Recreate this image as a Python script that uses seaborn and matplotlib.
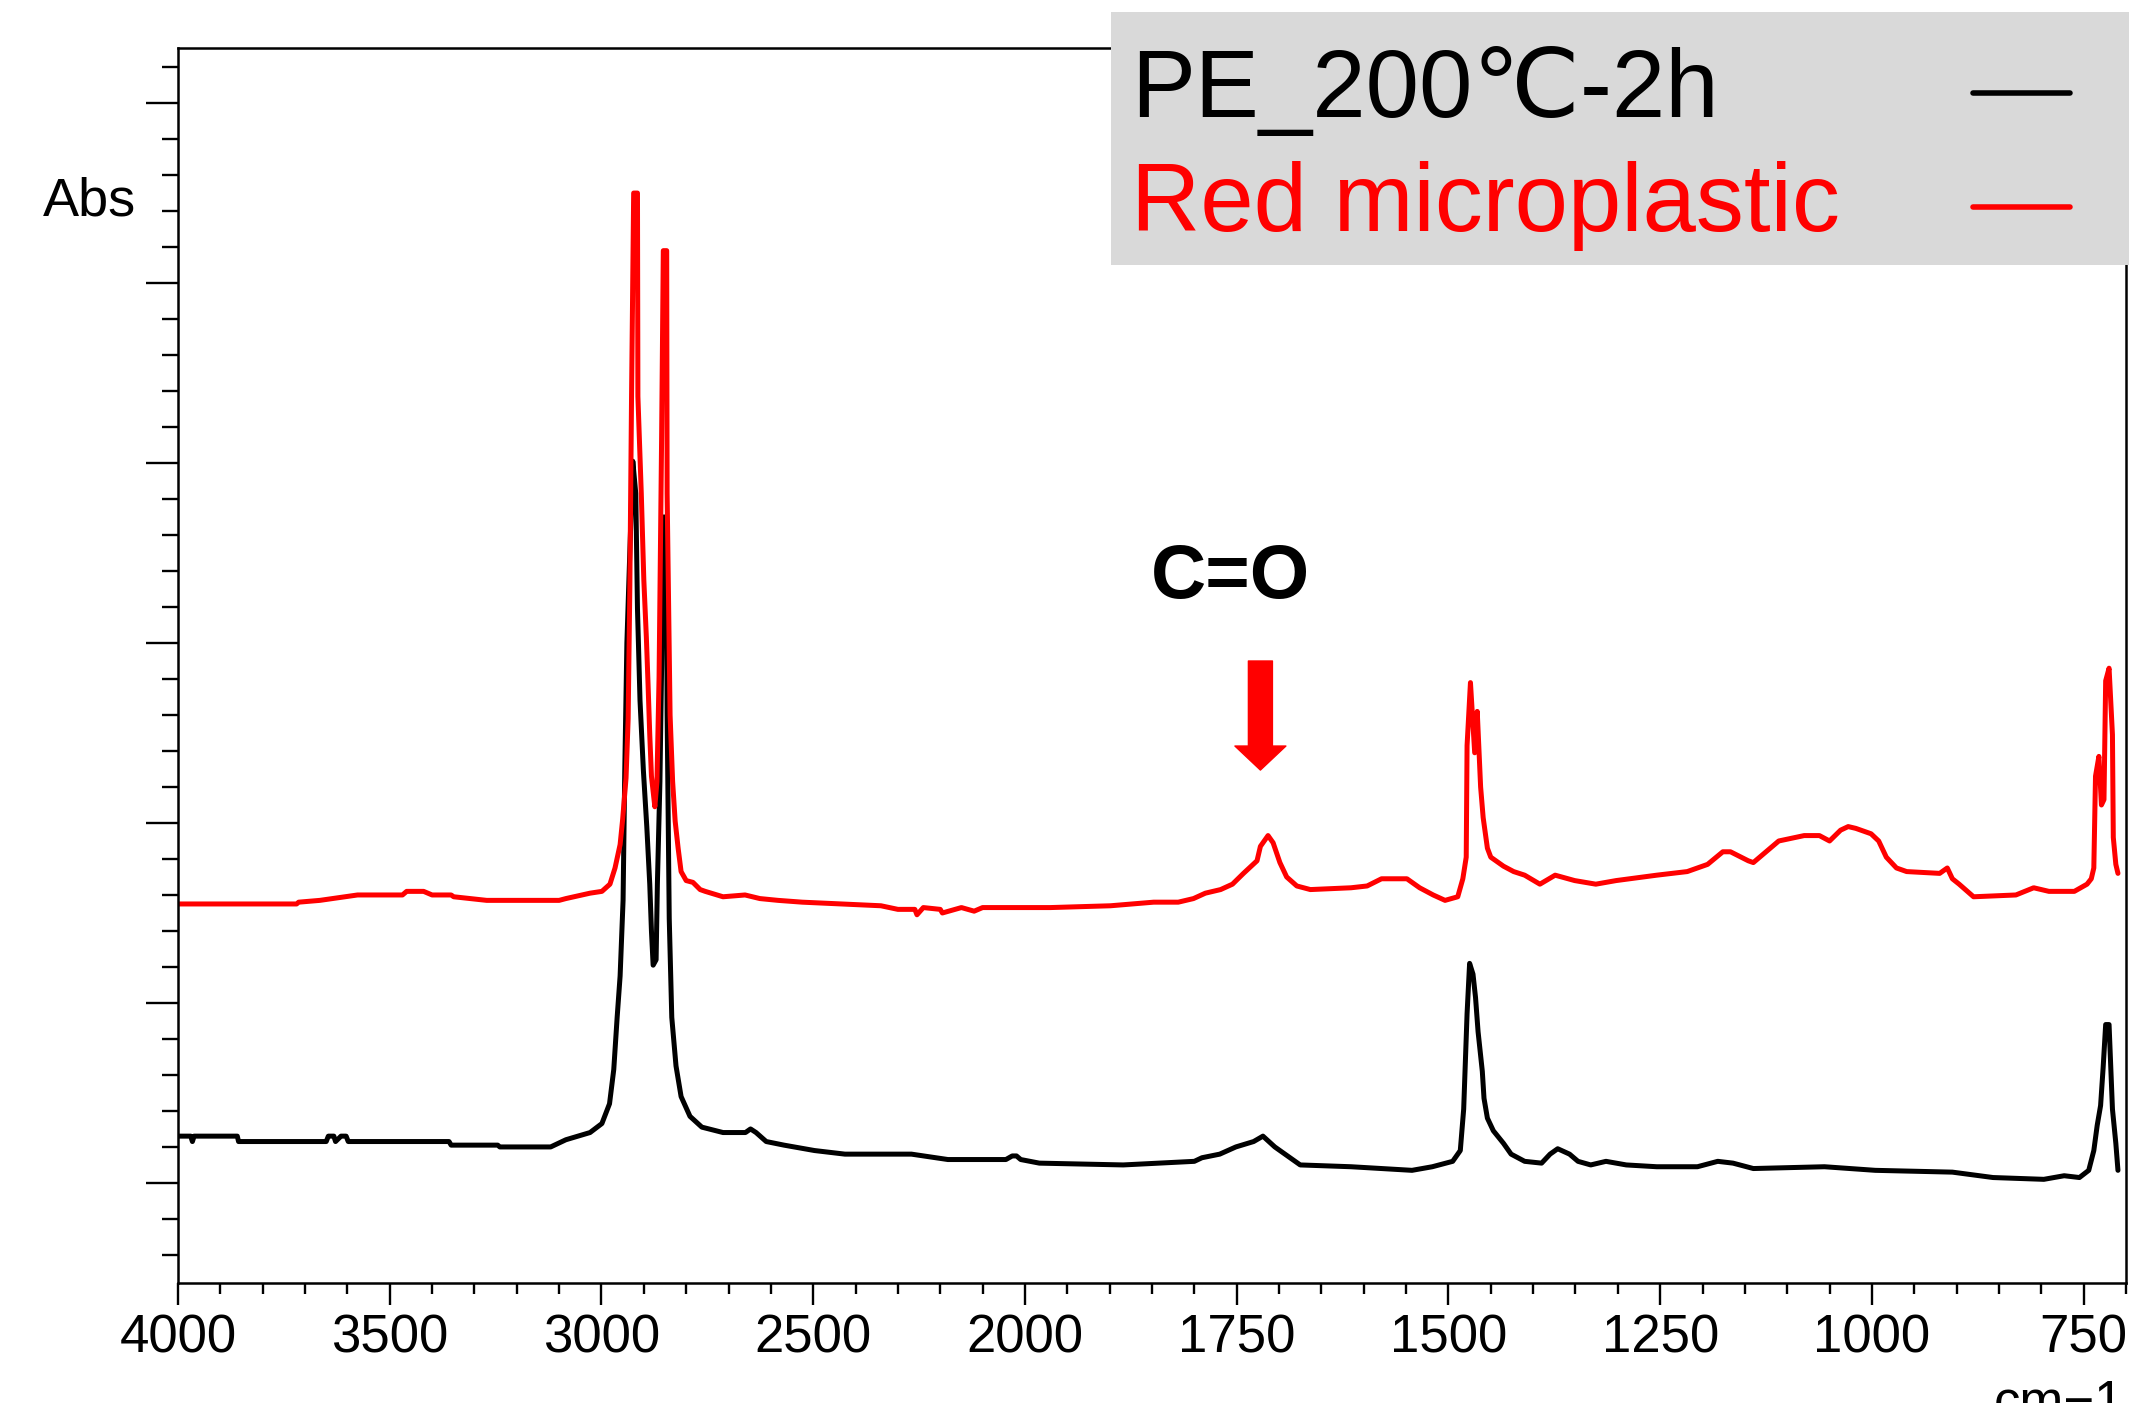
import numpy as np
import pandas as pd
import matplotlib
matplotlib.use("Agg")
import matplotlib.pyplot as plt
from matplotlib.patches import Rectangle
from matplotlib.lines import Line2D
import seaborn as sns

# ---------------- data ----------------
series_names = ["PE_200\u2103-2h", "Red microplastic"]
series_colors = ["#000000", "#ff0000"]

black_wn = [4000, 3970, 3966, 3962, 3860, 3857, 3650, 3645, 3632, 3628, 3615, 3603, 3598,
            3360, 3355, 3245, 3240, 3120, 3084, 3027, 2999, 2981, 2971, 2963, 2956, 2949,
            2945, 2940, 2933, 2926, 2919, 2915, 2909, 2901, 2893, 2886, 2882, 2878, 2871,
            2868, 2862, 2858, 2854, 2847, 2845, 2840, 2834, 2824, 2812, 2791, 2763, 2713,
            2660, 2648, 2635, 2611, 2569, 2497, 2425, 2268, 2182, 2045, 2030, 2020, 2010,
            1983, 1884, 1800, 1791, 1770, 1751, 1730, 1719, 1705, 1687, 1675, 1615, 1543,
            1519, 1495, 1486, 1482, 1478, 1475, 1471, 1468, 1465, 1460, 1458, 1454, 1447,
            1435, 1426, 1410, 1390, 1380, 1371, 1357, 1347, 1332, 1314, 1290, 1254, 1206,
            1182, 1164, 1140, 1056, 996, 905, 857, 797, 773, 755, 744, 738, 734, 730, 727,
            724, 720, 716, 712, 709.5]
black_abs = [0.026, 0.026, 0.023, 0.026, 0.026, 0.023, 0.023, 0.026, 0.026, 0.023, 0.026, 0.026, 0.023,
             0.023, 0.021, 0.021, 0.020, 0.020, 0.024, 0.028, 0.033, 0.044, 0.063, 0.092, 0.115, 0.157,
             0.229, 0.300, 0.351, 0.401, 0.383, 0.319, 0.268, 0.229, 0.198, 0.166, 0.140, 0.121, 0.124,
             0.166, 0.223, 0.287, 0.370, 0.370, 0.261, 0.147, 0.092, 0.065, 0.048, 0.037, 0.031, 0.028,
             0.028, 0.030, 0.028, 0.023, 0.021, 0.018, 0.016, 0.016, 0.013, 0.013, 0.015, 0.015, 0.013,
             0.011, 0.010, 0.012, 0.014, 0.016, 0.020, 0.023, 0.026, 0.020, 0.014, 0.010, 0.009, 0.007,
             0.009, 0.012, 0.018, 0.041, 0.094, 0.122, 0.116, 0.103, 0.084, 0.062, 0.047, 0.036, 0.029,
             0.022, 0.016, 0.012, 0.011, 0.016, 0.019, 0.016, 0.012, 0.010, 0.012, 0.010, 0.009, 0.009,
             0.012, 0.011, 0.008, 0.009, 0.007, 0.006, 0.003, 0.002, 0.004, 0.003, 0.007, 0.018, 0.032, 0.043, 0.064,
             0.088, 0.088, 0.041, 0.022, 0.007]

red_wn = [4000, 3720, 3715, 3665, 3635, 3576, 3470, 3460, 3420, 3400, 3355, 3349, 3271, 3100,
          3084, 3027, 2999, 2980, 2968, 2956, 2950, 2942, 2937, 2933, 2929, 2924, 2915, 2914,
          2906, 2900, 2894, 2890, 2886, 2882, 2874, 2869, 2864, 2858, 2854, 2846, 2845, 2838,
          2832, 2826, 2819, 2812, 2800, 2784, 2767, 2755, 2713, 2661, 2626, 2583, 2526, 2340,
          2300, 2260, 2255, 2240, 2200, 2195, 2150, 2120, 2100, 2000, 1970, 1899, 1848, 1819,
          1801, 1787, 1769, 1755, 1742, 1726, 1722, 1713, 1707, 1699, 1691, 1679, 1663, 1615,
          1596, 1579, 1549, 1534, 1518, 1504, 1489, 1483, 1479, 1478, 1474, 1469, 1466, 1462,
          1459, 1454, 1450, 1435, 1423, 1410, 1392, 1374, 1351, 1326, 1302, 1254, 1218, 1194,
          1176, 1167, 1146, 1140, 1110, 1080, 1062, 1050, 1037, 1028, 1019, 1001, 992, 983,
          971, 959, 920, 911, 905, 897, 880, 830, 809, 791, 761, 746, 741, 738, 736, 732, 729,
          726, 724, 720, 716, 715, 712, 709.5]
red_abs = [0.155, 0.155, 0.156, 0.157, 0.158, 0.160, 0.160, 0.162, 0.162, 0.160, 0.160, 0.159, 0.157, 0.157,
           0.158, 0.161, 0.162, 0.166, 0.175, 0.188, 0.202, 0.225, 0.258, 0.332, 0.437, 0.550, 0.550, 0.437,
           0.383, 0.335, 0.303, 0.277, 0.249, 0.226, 0.209, 0.223, 0.281, 0.414, 0.518, 0.518, 0.383, 0.260,
           0.223, 0.201, 0.186, 0.173, 0.168, 0.167, 0.163, 0.162, 0.159, 0.160, 0.158, 0.157, 0.156, 0.154,
           0.152, 0.152, 0.149, 0.153, 0.152, 0.150, 0.153, 0.151, 0.153, 0.153, 0.153, 0.154, 0.156, 0.156,
           0.158, 0.161, 0.163, 0.166, 0.172, 0.179, 0.187, 0.193, 0.189, 0.178, 0.170, 0.165, 0.163, 0.164,
           0.165, 0.169, 0.169, 0.164, 0.160, 0.157, 0.159, 0.169, 0.181, 0.243, 0.278, 0.239, 0.262, 0.220,
           0.203, 0.186, 0.181, 0.176, 0.173, 0.171, 0.166, 0.171, 0.168, 0.166, 0.168, 0.171, 0.173, 0.177,
           0.184, 0.184, 0.179, 0.178, 0.190, 0.193, 0.193, 0.190, 0.196, 0.198, 0.197, 0.194, 0.190, 0.181,
           0.175, 0.173, 0.172, 0.175, 0.169, 0.166, 0.159, 0.160, 0.164, 0.162, 0.162, 0.166, 0.169, 0.175, 0.226, 0.237, 0.210,
           0.213, 0.279, 0.286, 0.249, 0.192, 0.177, 0.172]

x_major_ticks = [4000, 3500, 3000, 2500, 2000, 1750, 1500, 1250, 1000, 750]
x_tick_labels = ["4000", "3500", "3000", "2500", "2000", "1750", "1500", "1250", "1000", "750"]

# ---------------- style ----------------
sns.set_style("ticks")
plt.rcParams["font.family"] = ["Liberation Sans", "DejaVu Sans"]
plt.rcParams["text.color"] = "black"
plt.rcParams["axes.labelcolor"] = "black"
plt.rcParams["xtick.color"] = "black"
plt.rcParams["ytick.color"] = "black"
plt.rcParams["axes.edgecolor"] = "black"

W, H = 2129, 1403
fig = plt.figure(figsize=(W / 100, H / 100), dpi=100)
ax = fig.add_axes([178 / W, 1 - 1283 / H, (2126 - 178) / W, (1283 - 48) / H])

df = pd.concat([
    pd.DataFrame({"wn": black_wn, "abs": black_abs, "sample": series_names[0]}),
    pd.DataFrame({"wn": red_wn, "abs": red_abs, "sample": series_names[1]}),
], ignore_index=True)

sns.lineplot(data=df, x="wn", y="abs", hue="sample", hue_order=series_names,
             palette=dict(zip(series_names, series_colors)), sort=False,
             estimator=None, linewidth=3.6, legend=False, ax=ax)

# piecewise wavenumber axis: expanded x2 below 2000 cm-1
def fwd(x):
    x = np.asarray(x, dtype=float)
    return np.where(x >= 2000, x, 2 * x - 2000)

def inv(u):
    u = np.asarray(u, dtype=float)
    return np.where(u >= 2000, u, (u + 2000) / 2)

ax.set_xscale("function", functions=(fwd, inv))
ax.set_xlim(4000, 700)
ax.set_ylim(-0.0556, 0.6306)

ax.set_xticks(x_major_ticks)
ax.set_xticklabels(x_tick_labels)
minor_x = [v for v in range(3900, 2000, -100) if v % 500] + [v for v in range(1950, 699, -50) if v % 250]
ax.set_xticks(minor_x, minor=True)
ax.set_yticks(np.round(np.arange(0, 0.61, 0.1), 3))
ax.set_yticks(np.round(np.arange(-0.04, 0.63, 0.02), 3), minor=True)
ax.set_yticklabels([])

ax.tick_params(axis="x", which="major", length=16, width=1.7, direction="out",
               labelsize=38, pad=6, color="black", labelcolor="black")
ax.tick_params(axis="x", which="minor", length=8, width=1.7, direction="out", color="black")
ax.tick_params(axis="y", which="major", length=23, width=1.7, direction="out", color="black")
ax.tick_params(axis="y", which="minor", length=11.5, width=1.7, direction="out", color="black")
for s in ax.spines.values():
    s.set_visible(True)
    s.set_linewidth(1.8)
    s.set_color("black")
ax.set_xlabel("")
ax.set_ylabel("")
ax.grid(False)

# annotation
ax.text(1757, 0.325, "C=O", ha="center", va="baseline", fontsize=55, fontweight="bold", color="black")
ax.annotate("", xy=(1722, 0.2294), xytext=(1722, 0.29),
            arrowprops=dict(arrowstyle="simple,head_length=0.173,head_width=0.367,tail_width=0.173",
                            mutation_scale=100, color="#ff0000", shrinkA=0, shrinkB=0))

# axis texts
fig.text(43 / W, 1 - 215 / H, "Abs", fontsize=39, ha="left", va="baseline", color="black")
fig.text(1994 / W, 1 - 1417 / H, "cm\u22121", fontsize=38, ha="left", va="baseline", color="black")

# legend box (text first, sample line on the right)
rect = Rectangle((1111 / W, 1 - 265 / H), (W - 1111) / W + 0.01, (265 - 12) / H,
                 transform=fig.transFigure, facecolor="#d9d9d9", edgecolor="none", zorder=4)
fig.add_artist(rect)
label_baselines = [117, 231]
line_ys = [93, 207]
for name, col, yb, yl in zip(series_names, series_colors, label_baselines, line_ys):
    fig.text(1131 / W, 1 - yb / H, name, fontsize=69, color=col, ha="left", va="baseline",
             family=["Liberation Sans", "DejaVu Sans"], zorder=6)
    fig.add_artist(Line2D([1973 / W, 2070 / W], [1 - yl / H, 1 - yl / H], color=col,
                          linewidth=4.0, transform=fig.transFigure, zorder=6))

fig.savefig("out.png", dpi=100)
